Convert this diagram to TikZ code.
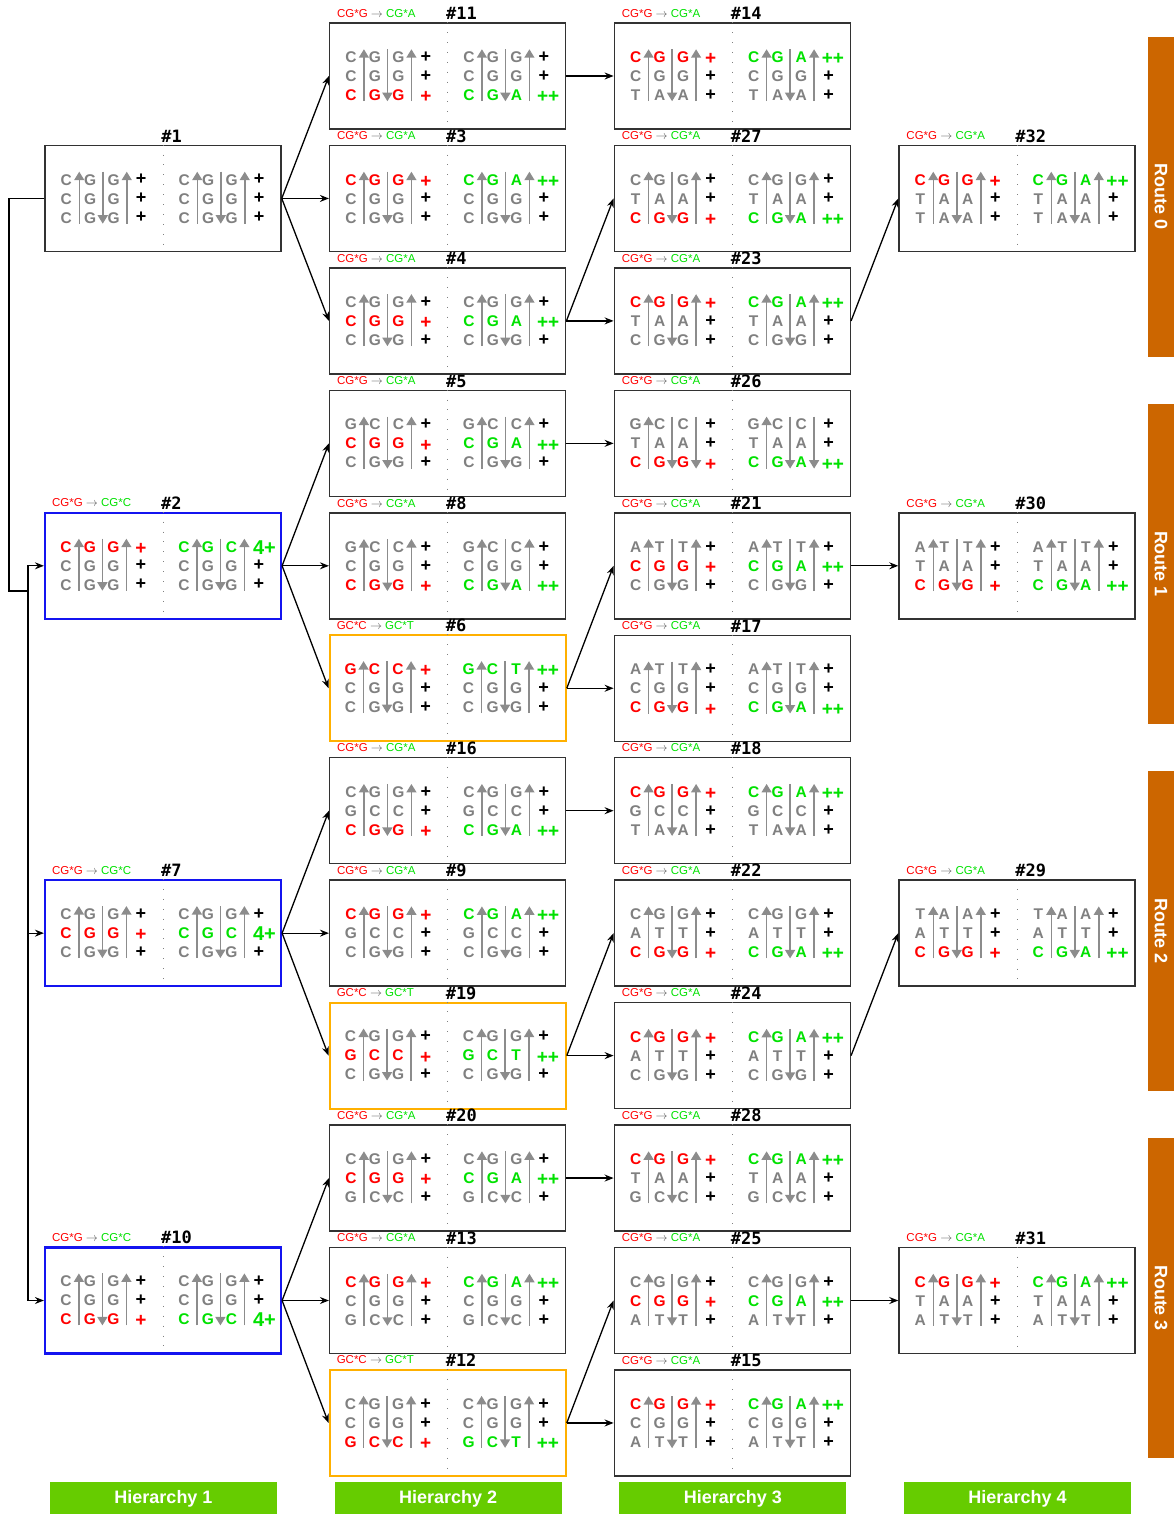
\documentclass[tikz,border=0pt]{standalone}
\usepackage{fontspec}
\setmainfont{Liberation Sans}
\newfontfamily\numfont{DejaVu Sans Mono}
\usetikzlibrary{arrows.meta}

\definecolor{routeor}{RGB}{204,102,0}
\definecolor{hiergreen}{RGB}{102,204,0}
\definecolor{lgray}{RGB}{128,128,128}
\definecolor{agray}{RGB}{140,140,140}
\definecolor{hgray}{RGB}{90,90,90}
\definecolor{mgreen}{RGB}{0,225,0}
\definecolor{mred}{RGB}{255,0,0}
\definecolor{boxblue}{RGB}{20,20,240}
\definecolor{boxorange}{RGB}{255,176,0}
\definecolor{boxedge}{RGB}{50,50,50}

\tikzset{
  x=1pt, y=-1pt,
  box/.style={draw=boxedge, line width=1.5pt, minimum width=236pt, minimum height=106pt, inner sep=0pt},
  bluebox/.style={draw=boxblue, line width=2.2pt},
  orbox/.style={draw=boxorange, line width=2.2pt},
  divider/.style={draw=lgray, line width=0.9pt, dash pattern=on 0.9pt off 9pt},
  hdr/.style={anchor=base west, inner sep=0pt, font=\fontsize{11.5}{12}\selectfont},
  numlbl/.style={anchor=base west, inner sep=0pt, font=\numfont\bfseries\fontsize{17}{17}\selectfont},
  lt/.style={inner sep=0pt, font=\bfseries\fontsize{15.5}{15.5}\selectfont, text=lgray},
  pl/.style={inner sep=0pt, font=\bfseries\fontsize{18}{18}\selectfont},
  mk/.style={inner sep=0pt, font=\bfseries\fontsize{19}{19}\selectfont},
  fourmk/.style={inner sep=0pt, font=\bfseries\fontsize{20}{20}\selectfont},
  garrow/.style={draw=agray, line width=1.5pt, -{Triangle[width=10pt,length=8.5pt]}},
  conn/.style={draw=black, line width=1.3pt, -{Stealth[length=9pt,width=7pt,inset=3pt]}},
  plainconn/.style={draw=black, line width=1.3pt},
  route/.style={fill=routeor, rotate=-90, minimum width=320pt, minimum height=26pt, inner sep=0pt,
    text=white, font=\bfseries\fontsize{18}{18}\selectfont},
  hier/.style={fill=hiergreen, minimum width=227pt, minimum height=34pt, inner sep=0pt,
    text=white, font=\bfseries\fontsize{18}{18}\selectfont},
}

% mutation headers
\newcommand\hdrA{\textcolor{mred}{CG*G} \textcolor{hgray}{$\rightarrow$} \textcolor{mgreen}{CG*A}}
\newcommand\hdrC{\textcolor{mred}{CG*G} \textcolor{hgray}{$\rightarrow$} \textcolor{mgreen}{CG*C}}
\newcommand\hdrT{\textcolor{mred}{GC*C} \textcolor{hgray}{$\rightarrow$} \textcolor{mgreen}{GC*T}}

% #1 number, #2 column, #3 row, #4 border style, #5 header, #6 third strand arrow (u/d)
\newcommand\dnabox[6]{%
  \node[box,#4] (b#1) at ({163+284.67*#2},{76+122.45*#3}) {};
  \draw[divider] (b#1.north) -- (b#1.south);
  \node[hdr] at ([shift={(8,-5)}]b#1.north west) {#5};
  \node[numlbl] at ([shift={(117,-2.5)}]b#1.north west) {\##1};
  \begin{scope}[shift={(b#1.north west)}]
    \foreach \px in {0,118}{
      \draw[garrow] (\px+35,79) -- (\px+35,27);
      \draw[garrow] (\px+58.5,27) -- (\px+58.5,79);
      \if#6u\draw[garrow] (\px+82.5,79) -- (\px+82.5,27);
      \else\draw[garrow] (\px+82.5,27) -- (\px+82.5,79);\fi
    }
  \end{scope}}

% plain grey row in both halves: #1 box, #2 row, #3-#5 bases
\newcommand\grow[5]{%
  \begin{scope}[shift={(b#1.north west)}]
    \foreach \px in {0,118}{
      \node[lt] at (\px+22,{16+19*#2}) {#3};
      \node[lt] at (\px+46,{16+19*#2}) {#4};
      \node[lt] at (\px+69.5,{16+19*#2}) {#5};
      \node[pl] at (\px+97,{16+19*#2}) {+};
    }
  \end{scope}}

% mutated row: #1 box, #2 row, #3-#5 before (red), #6-#8 after (green),
% #9 marker style, then the marker text follows as the next argument
\newcommand\hrow[9]{%
  \begin{scope}[shift={(b#1.north west)}]
    \node[lt,text=mred] at (22,{16+19*#2}) {#3};
    \node[lt,text=mred] at (46,{16+19*#2}) {#4};
    \node[lt,text=mred] at (69.5,{16+19*#2}) {#5};
    \node[mk,text=mred] at (97,{18+19*#2}) {+};
    \node[lt,text=mgreen] at (140,{16+19*#2}) {#6};
    \node[lt,text=mgreen] at (164,{16+19*#2}) {#7};
    \node[lt,text=mgreen] at (187.5,{16+19*#2}) {#8};
    #9
  \end{scope}}
\newcommand\hA[2]{\hrow{#1}{#2}{C}{G}{G}{C}{G}{A}{\node[mk,text=mgreen,anchor=west] at (208,{18+19*#2}) {++};}}
\newcommand\hGC[2]{\hrow{#1}{#2}{G}{C}{C}{G}{C}{T}{\node[mk,text=mgreen,anchor=west] at (208,{18+19*#2}) {++};}}
\newcommand\hCC[2]{\hrow{#1}{#2}{C}{G}{G}{C}{G}{C}{\node[fourmk,text=mgreen,anchor=west] at (209,{16.5+19*#2}) {4+};}}

\begin{document}
\begin{tikzpicture}
\useasboundingbox (0,0) rectangle (1174,1514);

% ---- hierarchy 1
\dnabox{1}{0}{1}{}{}{u}
\grow{1}{1}{C}{G}{G}\grow{1}{2}{C}{G}{G}\grow{1}{3}{C}{G}{G}
\dnabox{2}{0}{4}{bluebox}{\hdrC}{u}
\hCC{2}{1}\grow{2}{2}{C}{G}{G}\grow{2}{3}{C}{G}{G}
\dnabox{7}{0}{7}{bluebox}{\hdrC}{u}
\grow{7}{1}{C}{G}{G}\hCC{7}{2}\grow{7}{3}{C}{G}{G}
\dnabox{10}{0}{10}{bluebox}{\hdrC}{u}
\grow{10}{1}{C}{G}{G}\grow{10}{2}{C}{G}{G}\hCC{10}{3}

% ---- hierarchy 2
\dnabox{11}{1}{0}{}{\hdrA}{u}
\grow{11}{1}{C}{G}{G}\grow{11}{2}{C}{G}{G}\hA{11}{3}
\dnabox{3}{1}{1}{}{\hdrA}{u}
\hA{3}{1}\grow{3}{2}{C}{G}{G}\grow{3}{3}{C}{G}{G}
\dnabox{4}{1}{2}{}{\hdrA}{u}
\grow{4}{1}{C}{G}{G}\hA{4}{2}\grow{4}{3}{C}{G}{G}
\dnabox{5}{1}{3}{}{\hdrA}{u}
\grow{5}{1}{G}{C}{C}\hA{5}{2}\grow{5}{3}{C}{G}{G}
\dnabox{8}{1}{4}{}{\hdrA}{u}
\grow{8}{1}{G}{C}{C}\grow{8}{2}{C}{G}{G}\hA{8}{3}
\dnabox{6}{1}{5}{orbox}{\hdrT}{u}
\hGC{6}{1}\grow{6}{2}{C}{G}{G}\grow{6}{3}{C}{G}{G}
\dnabox{16}{1}{6}{}{\hdrA}{u}
\grow{16}{1}{C}{G}{G}\grow{16}{2}{G}{C}{C}\hA{16}{3}
\dnabox{9}{1}{7}{}{\hdrA}{u}
\hA{9}{1}\grow{9}{2}{G}{C}{C}\grow{9}{3}{C}{G}{G}
\dnabox{19}{1}{8}{orbox}{\hdrT}{u}
\grow{19}{1}{C}{G}{G}\hGC{19}{2}\grow{19}{3}{C}{G}{G}
\dnabox{20}{1}{9}{}{\hdrA}{u}
\grow{20}{1}{C}{G}{G}\hA{20}{2}\grow{20}{3}{G}{C}{C}
\dnabox{13}{1}{10}{}{\hdrA}{u}
\hA{13}{1}\grow{13}{2}{C}{G}{G}\grow{13}{3}{G}{C}{C}
\dnabox{12}{1}{11}{orbox}{\hdrT}{u}
\grow{12}{1}{C}{G}{G}\grow{12}{2}{C}{G}{G}\hGC{12}{3}

% ---- hierarchy 3
\dnabox{14}{2}{0}{}{\hdrA}{u}
\hA{14}{1}\grow{14}{2}{C}{G}{G}\grow{14}{3}{T}{A}{A}
\dnabox{27}{2}{1}{}{\hdrA}{u}
\grow{27}{1}{C}{G}{G}\grow{27}{2}{T}{A}{A}\hA{27}{3}
\dnabox{23}{2}{2}{}{\hdrA}{u}
\hA{23}{1}\grow{23}{2}{T}{A}{A}\grow{23}{3}{C}{G}{G}
\dnabox{26}{2}{3}{}{\hdrA}{d}
\grow{26}{1}{G}{C}{C}\grow{26}{2}{T}{A}{A}\hA{26}{3}
\dnabox{21}{2}{4}{}{\hdrA}{u}
\grow{21}{1}{A}{T}{T}\hA{21}{2}\grow{21}{3}{C}{G}{G}
\dnabox{17}{2}{5}{}{\hdrA}{u}
\grow{17}{1}{A}{T}{T}\grow{17}{2}{C}{G}{G}\hA{17}{3}
\dnabox{18}{2}{6}{}{\hdrA}{u}
\hA{18}{1}\grow{18}{2}{G}{C}{C}\grow{18}{3}{T}{A}{A}
\dnabox{22}{2}{7}{}{\hdrA}{u}
\grow{22}{1}{C}{G}{G}\grow{22}{2}{A}{T}{T}\hA{22}{3}
\dnabox{24}{2}{8}{}{\hdrA}{u}
\hA{24}{1}\grow{24}{2}{A}{T}{T}\grow{24}{3}{C}{G}{G}
\dnabox{28}{2}{9}{}{\hdrA}{u}
\hA{28}{1}\grow{28}{2}{T}{A}{A}\grow{28}{3}{G}{C}{C}
\dnabox{25}{2}{10}{}{\hdrA}{u}
\grow{25}{1}{C}{G}{G}\hA{25}{2}\grow{25}{3}{A}{T}{T}
\dnabox{15}{2}{11}{}{\hdrA}{u}
\hA{15}{1}\grow{15}{2}{C}{G}{G}\grow{15}{3}{A}{T}{T}

% ---- hierarchy 4
\dnabox{32}{3}{1}{}{\hdrA}{u}
\hA{32}{1}\grow{32}{2}{T}{A}{A}\grow{32}{3}{T}{A}{A}
\dnabox{30}{3}{4}{}{\hdrA}{u}
\grow{30}{1}{A}{T}{T}\grow{30}{2}{T}{A}{A}\hA{30}{3}
\dnabox{29}{3}{7}{}{\hdrA}{u}
\grow{29}{1}{T}{A}{A}\grow{29}{2}{A}{T}{T}\hA{29}{3}
\dnabox{31}{3}{10}{}{\hdrA}{u}
\hA{31}{1}\grow{31}{2}{T}{A}{A}\grow{31}{3}{A}{T}{T}

% ---- root trunk on the left
\coordinate (ja) at (9,591);
\coordinate (jb) at (28,591);
\draw[plainconn] (b1.west) -| (ja) -- (jb);
\draw[conn] (jb) |- (b2.west);
\draw[conn] (jb) |- (b7.west);
\draw[conn] (jb) |- (b10.west);

% ---- hierarchy 1 -> 2
\foreach \s/\t in {1/11,1/3,1/4,2/5,2/8,2/6,7/16,7/9,7/19,10/20,10/13,10/12}
  \draw[conn] (b\s.east) -- (b\t.west);
% ---- hierarchy 2 -> 3
\foreach \s/\t in {11/14,4/27,4/23,5/26,6/21,6/17,16/18,19/22,19/24,20/28,12/25,12/15}
  \draw[conn] (b\s.east) -- (b\t.west);
% ---- hierarchy 3 -> 4
\foreach \s/\t in {23/32,21/30,24/29,25/31}
  \draw[conn] (b\s.east) -- (b\t.west);

% ---- route bars
\node[route] (r0) at (1161,197) {Route 0};
\node[route] (r1) at (1161,564) {Route 1};
\node[route] (r2) at (1161,931) {Route 2};
\node[route] (r3) at (1161,1298) {Route 3};

% ---- hierarchy bars
\node[hier] (h1) at (163.5,1499) {Hierarchy 1};
\node[hier] (h2) at (448.2,1499) {Hierarchy 2};
\node[hier] (h3) at (732.8,1499) {Hierarchy 3};
\node[hier] (h4) at (1017.5,1499) {Hierarchy 4};
\end{tikzpicture}
\end{document}
